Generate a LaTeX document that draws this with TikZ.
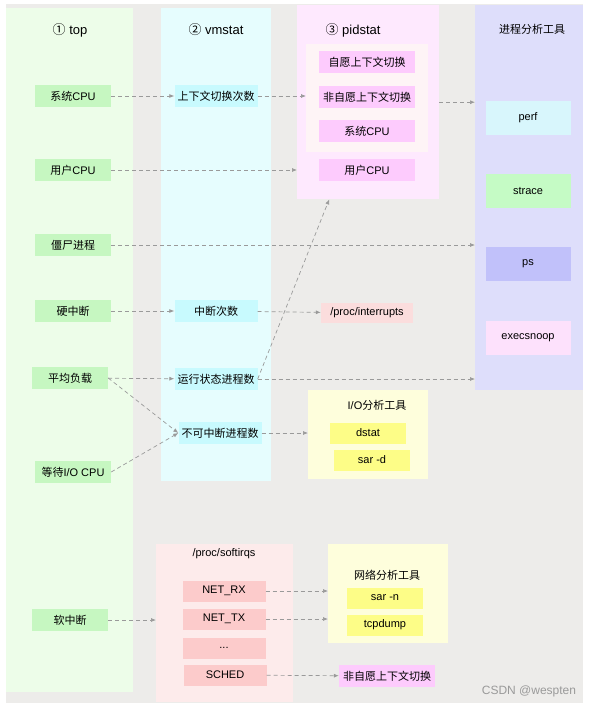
\documentclass[tikz,border=0pt]{standalone}
\usepackage{fontspec}
\setmainfont{Liberation Sans}
\newfontfamily\cjk{Noto Sans CJK SC}
\usetikzlibrary{arrows.meta}
\definecolor{bggray}{HTML}{EDECEA}
\definecolor{topcolc}{HTML}{EDFDE9}
\definecolor{topnode}{HTML}{C6F7C1}
\definecolor{vmcolc}{HTML}{E6FDFE}
\definecolor{vmnode}{HTML}{C8FAFE}
\definecolor{pidcolc}{HTML}{FEE9FE}
\definecolor{pidinc}{HTML}{FEF4F6}
\definecolor{pidnode}{HTML}{FDCBFD}
\definecolor{proccolc}{HTML}{DEDEFB}
\definecolor{perfc}{HTML}{D8F6FC}
\definecolor{stracec}{HTML}{C5FBC5}
\definecolor{psc}{HTML}{C1C1FA}
\definecolor{execc}{HTML}{FDE1FC}
\definecolor{irqc}{HTML}{FBDDDD}
\definecolor{yelbox}{HTML}{FEFEDC}
\definecolor{yelnode}{HTML}{FDFD87}
\definecolor{sirqbox}{HTML}{FDEBEB}
\definecolor{sirqnode}{HTML}{FCCBCB}
\definecolor{arrowgray}{HTML}{9A9A9A}
\begin{document}
\begin{tikzpicture}[x=1pt,y=-1pt,font=\fontsize{11}{13}\selectfont,
  panel/.style={inner sep=0pt,anchor=north west},
  item/.style={inner sep=0pt,minimum height=22pt},
  topitem/.style={item,fill=topnode,minimum width=76pt},
  vmitem/.style={item,fill=vmnode,minimum width=83pt},
  piditem/.style={item,fill=pidnode,minimum width=96pt},
  tool/.style={inner sep=0pt,minimum width=85pt,minimum height=34pt},
  yelitem/.style={inner sep=0pt,fill=yelnode,minimum width=76pt,minimum height=21pt},
  sirqitem/.style={inner sep=0pt,fill=sirqnode,minimum width=83pt,minimum height=21pt},
  coltitle/.style={font=\fontsize{13}{15}\selectfont},
  dep/.style={draw=arrowgray,line width=0.7pt,dash pattern=on 4pt off 3pt,
    -{Latex[length=5pt,width=4pt]}}]
\useasboundingbox (0,0) rectangle (592,709);
\fill[bggray] (6,4) rectangle (583,703);

% columns and boxes
\node[panel,fill=topcolc,minimum width=127pt,minimum height=684pt] (topcol) at (6,8) {};
\node[panel,fill=vmcolc,minimum width=110pt,minimum height=473pt] (vmcol) at (161,8) {};
\node[panel,fill=pidcolc,minimum width=142pt,minimum height=194pt] (pidcol) at (297,5) {};
\node[panel,fill=pidinc,minimum width=122pt,minimum height=108pt] (pidin) at (306,44) {};
\node[panel,fill=proccolc,minimum width=108pt,minimum height=385pt] (proccol) at (475,5) {};
\node[panel,fill=yelbox,minimum width=120pt,minimum height=89pt] (iobox) at (308,390) {};
\node[panel,fill=sirqbox,minimum width=137pt,minimum height=158pt] (sirqbox) at (156,544) {};
\node[panel,fill=yelbox,minimum width=120pt,minimum height=99pt] (netbox) at (328,544) {};

% titles
\node[coltitle] (toptitle) at (70,30) {{\cjk ①} top};
\node[coltitle] (vmtitle) at (216,30) {{\cjk ②} vmstat};
\node[coltitle] (pidtitle) at (353,30) {{\cjk ③} pidstat};
\node (proctitle) at (532,29) {\cjk 进程分析工具};
\node (iotitle) at (377,405) {I/O{\cjk 分析工具}};
\node (sirqtitle) at (224,554) {/proc/softirqs};
\node (nettitle) at (387,575) {\cjk 网络分析工具};

% top
\node[topitem] (sysc) at (73,96) {{\cjk 系统}CPU};
\node[topitem] (usrc) at (73,170) {{\cjk 用户}CPU};
\node[topitem] (zomb) at (73,245) {\cjk 僵尸进程};
\node[topitem] (hirq) at (73,311) {\cjk 硬中断};
\node[topitem] (load) at (70,378) {\cjk 平均负载};
\node[topitem] (iowait) at (73,472) {{\cjk 等待}I/O CPU};
\node[topitem] (sirq) at (70,620) {\cjk 软中断};

% vmstat
\node[vmitem] (ctxsw) at (216,96) {\cjk 上下文切换次数};
\node[vmitem] (irqcnt) at (216,311) {\cjk 中断次数};
\node[vmitem] (run) at (216,379) {\cjk 运行状态进程数};
\node[vmitem] (unint) at (220,433) {\cjk 不可中断进程数};

% pidstat
\node[piditem] (vcs) at (367,62) {\cjk 自愿上下文切换};
\node[piditem] (nvcs) at (367,97) {\cjk 非自愿上下文切换};
\node[piditem] (psys) at (367,131) {{\cjk 系统}CPU};
\node[piditem] (pusr) at (367,170) {{\cjk 用户}CPU};

% tools
\node[tool,fill=perfc] (perf) at (528,118) {perf};
\node[tool,fill=stracec] (strace) at (528,191) {strace};
\node[tool,fill=psc] (ps) at (528,264) {ps};
\node[tool,fill=execc] (execsnoop) at (528,338) {execsnoop};
\node[inner sep=0pt,fill=irqc,minimum width=92pt,minimum height=20pt] (procirq) at (367,313) {/proc/interrupts};
\node[yelitem] (dstat) at (368,433) {dstat};
\node[yelitem] (sard) at (372,460) {sar -d};
\node[yelitem] (sarn) at (385,598) {sar -n};
\node[yelitem] (tcpdump) at (385,625) {tcpdump};

% softirqs
\node[sirqitem] (netrx) at (224,591) {NET\_RX};
\node[sirqitem] (nettx) at (224,619) {NET\_TX};
\node[sirqitem] (dots) at (224,648) {...};
\node[sirqitem] (sched) at (225,675) {SCHED};
\node[piditem] (nvcs2) at (387,676) {\cjk 非自愿上下文切换};

\node[text=arrowgray,font=\fontsize{12}{14}\selectfont] (mark) at (529,691) {CSDN @wespten};

% connectors
\draw[dep] (sysc) -- (ctxsw);
\draw[dep] (ctxsw) -- (ctxsw -| pidin.west);
\draw[dep] (usrc) -- (usrc -| pidcol.west);
\draw[dep] (pidcol.east) -- (pidcol.east -| proccol.west);
\draw[dep] (zomb) -- (zomb -| proccol.west);
\draw[dep] (hirq) -- (irqcnt);
\draw[dep] (irqcnt) -- (procirq);
\draw[dep] (load) -- (run);
\draw[dep] (run) -- (run -| proccol.west);
\draw[dep] (run.east) -- ([xshift=-39pt]pidcol.south);
\draw[dep] (load.east) -- (unint.west);
\draw[dep] (iowait.east) -- (unint.west);
\draw[dep] (unint) -- (unint -| iobox.west);
\draw[dep] (sirq) -- (sirq -| sirqbox.west);
\draw[dep] (netrx) -- (netrx -| netbox.west);
\draw[dep] (nettx) -- (nettx -| netbox.west);
\draw[dep] (sched) -- (nvcs2);
\end{tikzpicture}
\end{document}
